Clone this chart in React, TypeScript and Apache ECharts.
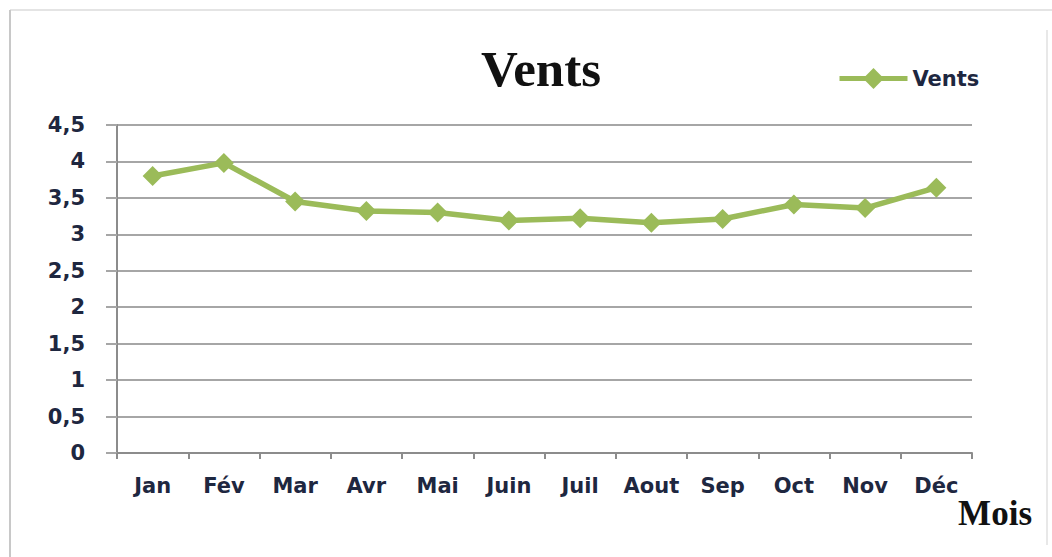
import React, { useEffect, useRef } from "react";
import * as echarts from "echarts";

const months = ["Jan", "Fév", "Mar", "Avr", "Mai", "Juin", "Juil", "Aout", "Sep", "Oct", "Nov", "Déc"];
const vents = [3.8, 3.98, 3.45, 3.32, 3.3, 3.19, 3.22, 3.16, 3.21, 3.41, 3.36, 3.64];
const titleText = "Vents";
const seriesName = "Vents";
const xAxisTitle = "Mois";

const labelFont = "'DejaVu Sans', sans-serif";
const textColor = "#1e2740";
const green = "#9bbb59";

export default function App() {
  const ref = useRef<HTMLDivElement>(null);
  useEffect(() => {
    if (!ref.current) return;
    const chart = echarts.init(ref.current, undefined, { renderer: "svg" });
    chart.setOption({
      animation: false,
      backgroundColor: "#ffffff",
      title: {
        text: titleText,
        left: 476,
        top: 38,
        textStyle: {
          fontFamily: "'Liberation Serif', 'Times New Roman', serif",
          fontWeight: "bold",
          fontSize: 51,
          color: "#111",
        },
      },
      legend: {
        left: 832,
        top: 63,
        itemWidth: 68,
        itemHeight: 26,
        itemGap: 4,
        lineStyle: { width: 5, color: green },
        textStyle: { fontFamily: labelFont, fontWeight: "bold", fontSize: 21, color: textColor },
        data: [seriesName],
      },
      grid: { left: 117, right: 80, top: 125, bottom: 104, containLabel: false },
      xAxis: {
        type: "category",
        data: months,
        boundaryGap: true,
        axisLine: { lineStyle: { color: "#8c8c8c", width: 2 } },
        axisTick: { show: true, length: 6, alignWithLabel: false, lineStyle: { color: "#8c8c8c", width: 2 } },
        axisLabel: {
          margin: 22,
          fontFamily: labelFont,
          fontWeight: "bold",
          fontSize: 21,
          color: textColor,
          interval: 0,
        },
      },
      yAxis: {
        type: "value",
        min: 0,
        max: 4.5,
        interval: 0.5,
        axisLine: { show: true, lineStyle: { color: "#8c8c8c", width: 2 } },
        axisTick: { show: true, length: 11, lineStyle: { color: "#a6a6a6", width: 2 } },
        splitLine: { show: true, lineStyle: { color: "#a6a6a6", width: 2 } },
        axisLabel: {
          margin: 32,
          fontFamily: labelFont,
          fontWeight: "bold",
          fontSize: 21,
          color: textColor,
          formatter: (v: number) => String(v).replace(".", ","),
        },
      },
      series: [
        {
          name: seriesName,
          type: "line",
          data: vents,
          symbol: "diamond",
          symbolSize: 20,
          lineStyle: { color: green, width: 5.5 },
          itemStyle: { color: green },
        },
      ],
      graphic: [
        {
          type: "text",
          right: 20,
          top: 496,
          style: {
            text: xAxisTitle,
            fontFamily: "'Liberation Serif', 'Times New Roman', serif",
            fontWeight: "bold",
            fontSize: 35,
            fill: "#111",
          },
        },
        { type: "line", shape: { x1: 10, y1: 10, x2: 1052, y2: 10 }, style: { stroke: "#e4e4e4", lineWidth: 2 } },
        { type: "line", shape: { x1: 10, y1: 10, x2: 10, y2: 557 }, style: { stroke: "#c8c8c8", lineWidth: 2 } },
        { type: "line", shape: { x1: 1047, y1: 30, x2: 1047, y2: 545 }, style: { stroke: "#e0e0e0", lineWidth: 1.5 } },
      ],
    });
    return () => chart.dispose();
  }, []);
  return <div ref={ref} style={{ position: "fixed", left: 0, top: 0, width: 1052, height: 557 }} />;
}
